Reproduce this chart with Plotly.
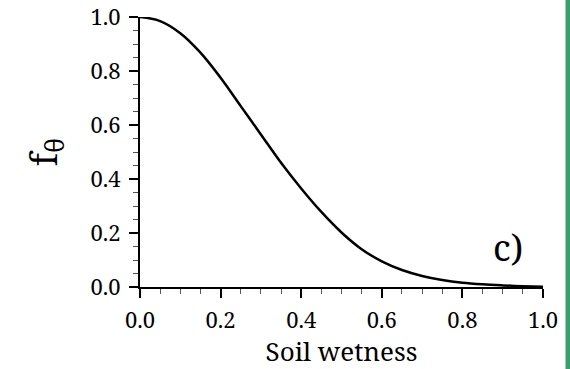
import plotly.graph_objects as go

soil_wetness = [0.0, 0.05, 0.1, 0.15, 0.2, 0.25, 0.3, 0.35, 0.4, 0.45, 0.5,
                0.55, 0.6, 0.65, 0.7, 0.75, 0.8, 0.85, 0.9, 0.95, 1.0]
f_theta = [1.0, 0.985, 0.94, 0.868, 0.775, 0.67, 0.565, 0.46, 0.365, 0.278, 0.202,
           0.14, 0.095, 0.063, 0.041, 0.026, 0.016, 0.01, 0.006, 0.003, 0.001]
tick_vals = [0.0, 0.2, 0.4, 0.6, 0.8, 1.0]
tick_text = ["0.0", "0.2", "0.4", "0.6", "0.8", "1.0"]

SERIF = "Noto Serif"

fig = go.Figure()
fig.add_trace(go.Scatter(x=soil_wetness, y=f_theta, mode="lines",
                         line=dict(color="black", width=2.5, shape="spline", smoothing=1.0),
                         showlegend=False, hoverinfo="skip"))

axis_common = dict(
    showgrid=False, zeroline=False, showline=True, linecolor="black", linewidth=2,
    ticks="outside", ticklen=9, tickwidth=2, tickcolor="black",
    tickvals=tick_vals, ticktext=tick_text,
    tickfont=dict(family=SERIF, size=22, color="black"),
    minor=dict(ticks="outside", ticklen=5, tickwidth=1, tickcolor="#555", dtick=0.05, showgrid=False),
    range=[0, 1], automargin=False,
)

fig.update_xaxes(**axis_common, ticklabelstandoff=4,
                 title=dict(text="Soil wetness", font=dict(family=SERIF, size=26, color="black"), standoff=8))
fig.update_yaxes(**axis_common, ticklabelstandoff=4,
                 title=dict(text="f<sub>θ</sub>", font=dict(family=SERIF, size=36, color="black"), standoff=22))

fig.add_annotation(x=0.912, y=0.148, xref="x", yref="y", text="c)", showarrow=False,
                   font=dict(family=SERIF, size=36, color="black"))

fig.add_shape(type="rect", xref="paper", yref="paper", x0=(565.5 - 140) / 403, x1=(572 - 140) / 403,
              y0=-0.4, y1=1.1, fillcolor="#3a9d6c", line=dict(width=0), layer="above")

fig.update_layout(width=570, height=369, margin=dict(l=140, r=27, t=17, b=82),
                  paper_bgcolor="white", plot_bgcolor="white",
                  font=dict(family=SERIF, color="black"))

fig.write_html("out.html")
